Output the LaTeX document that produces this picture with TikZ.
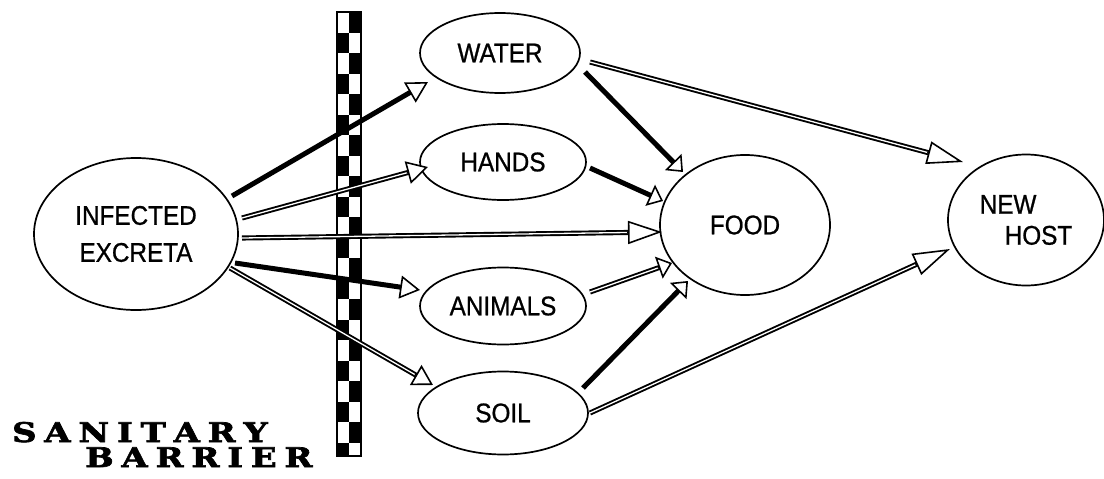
\documentclass[tikz,border=0pt]{standalone}
\usepackage{fontspec}
\setmainfont{Liberation Sans}[FakeStretch=0.9, FakeBold=0.8]
\newfontfamily\signfont{DejaVu Serif}[FakeStretch=1.25, FakeBold=2.5]
\usetikzlibrary{arrows.meta,shapes.geometric,calc}

% shaft of a connector, then an open triangular head on a short stub
\newcommand\linkarrow[4]{%
  \draw[#1, shorten >=#2pt-1pt] (#3) -- (#4);
  \draw[headstub, -{Triangle[length=#2pt, width=23pt, fill=white]}]
    ($(#4)!#2pt+1pt!(#3)$) -- (#4);
}

\begin{document}
\begin{tikzpicture}[x=1pt, y=-1pt,
  blob/.style={ellipse, draw, line width=1.7pt, inner sep=0pt,
    align=center, font=\fontsize{27}{37}\selectfont},
  dbl/.style={line width=1.9pt, double=white, double distance=1.3pt},
  sld/.style={line width=5pt},
  headstub/.style={line width=1.6pt, draw=black}]
\useasboundingbox (0,0) rectangle (1104,479);

% the chequered sanitary barrier
\foreach \k in {0,...,21} {
  \pgfmathsetmacro\ya{12+20.5*\k}
  \pgfmathsetmacro\yb{min(12+20.5*(\k+1),456)}
  \pgfmathsetmacro\xa{ifthenelse(mod(\k,2)==0,349,337)}
  \fill (\xa,\ya) rectangle (\xa+12,\yb);
}
\draw[line width=1.5pt] (337,12) rectangle (361,456);

% nodes
\node[blob, minimum width=204pt, minimum height=152pt] (ex) at (136,234) {INFECTED\\EXCRETA};
\node[blob, minimum width=160pt, minimum height=80pt] (water) at (500,53) {WATER};
\node[blob, minimum width=166pt, minimum height=76pt] (hands) at (503,162) {HANDS};
\node[blob, minimum width=166pt, minimum height=77pt] (animals) at (503,306) {ANIMALS};
\node[blob, minimum width=170pt, minimum height=83pt] (soil) at (503,413) {SOIL};
\node[blob, minimum width=170pt, minimum height=140pt] (food) at (745,225) {FOOD};
\node[blob, minimum width=156pt, minimum height=131pt, align=left,
  font=\fontsize{27}{31}\selectfont] (host) at (1026,220) {NEW\\\hspace*{25pt}HOST};

% connector end points
\coordinate (ex-w) at (232,196);   \coordinate (w-in) at (428,82);
\coordinate (ex-h) at (242,218);   \coordinate (h-in) at (428,167);
\coordinate (ex-f) at (242,238);   \coordinate (f-in-ex) at (662,232);
\coordinate (ex-a) at (235,263);   \coordinate (a-in) at (420,290);
\coordinate (ex-s) at (230,268);   \coordinate (s-in) at (433,385);
\coordinate (w-f) at (585,72);     \coordinate (f-in-w) at (683,172);
\coordinate (w-n) at (590,62);     \coordinate (n-in-w) at (963,162);
\coordinate (h-f) at (590,168);    \coordinate (f-in-h) at (663,201);
\coordinate (a-f) at (590,292);    \coordinate (f-in-a) at (672,263);
\coordinate (s-f) at (583,388);    \coordinate (f-in-s) at (688,281);
\coordinate (s-n) at (590,413);    \coordinate (n-in-s) at (950,249);

% connectors
\linkarrow{sld}{21}{ex-w}{w-in}
\linkarrow{dbl}{21}{ex-h}{h-in}
\linkarrow{dbl}{34}{ex-f}{f-in-ex}
\linkarrow{sld}{20}{ex-a}{a-in}
\linkarrow{dbl}{20}{ex-s}{s-in}
\linkarrow{sld}{14}{w-f}{f-in-w}
\linkarrow{dbl}{36}{w-n}{n-in-w}
\linkarrow{sld}{14}{h-f}{f-in-h}
\linkarrow{dbl}{14}{a-f}{f-in-a}
\linkarrow{sld}{14}{s-f}{f-in-s}
\linkarrow{dbl}{37}{s-n}{n-in-s}

% caption of the barrier
\node[anchor=base west, inner sep=0pt, font=\signfont\bfseries\fontsize{27}{27}\selectfont] (cap1) at (12,442)
  {\makebox[248pt][s]{S A N I T A R Y}};
\node[anchor=base west, inner sep=0pt, font=\signfont\bfseries\fontsize{27}{27}\selectfont] (cap2) at (85,467)
  {\makebox[225pt][s]{B A R R I E R}};
\end{tikzpicture}
\end{document}
